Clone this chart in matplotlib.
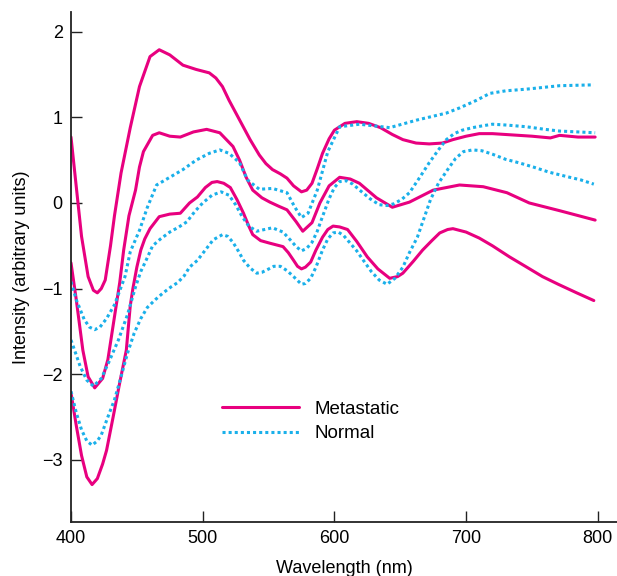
# Reflectance spectra: metastatic vs normal tissue (three of each)
import matplotlib
matplotlib.use('Agg')
import matplotlib.pyplot as plt

plt.rcParams['font.family'] = ['Liberation Sans', 'DejaVu Sans']

# --- metastatic spectra (solid magenta) ---
met1_x = [400, 404, 408, 413, 417, 420, 423, 426, 430, 433, 438, 445, 452, 460, 467, 475, 485, 495,
          505, 510, 515, 520, 528, 536, 543, 548, 553, 559, 564, 569, 575, 579, 583, 587, 591, 596,
          600, 608, 617, 626, 635, 644, 652, 662, 672, 682, 690, 700, 710, 720, 730, 740, 750, 764,
          771, 785, 798]
met1_y = [0.77, 0.19, -0.39, -0.86, -1.02, -1.05, -1.0, -0.9, -0.5, -0.15, 0.35, 0.88, 1.36, 1.71,
          1.79, 1.73, 1.61, 1.56, 1.52, 1.46, 1.36, 1.2, 0.97, 0.74, 0.56, 0.46, 0.39, 0.34, 0.29,
          0.2, 0.13, 0.15, 0.23, 0.40, 0.58, 0.75, 0.85, 0.93, 0.95, 0.93, 0.88, 0.80, 0.74, 0.70,
          0.69, 0.70, 0.74, 0.78, 0.81, 0.81, 0.80, 0.79, 0.78, 0.76, 0.79, 0.77, 0.77]

met2_x = [400, 404, 409, 413, 418, 424, 428, 433, 437, 440, 444, 449, 452, 455, 462, 467, 475, 483,
          493, 503, 513, 523, 528, 533, 538, 545, 551, 558, 564, 571, 576, 583, 589, 596, 604, 612,
          619, 632, 644, 657, 675, 695, 713, 731, 748, 771, 798]
met2_y = [-0.70, -1.13, -1.72, -2.03, -2.16, -2.05, -1.83, -1.33, -0.93, -0.55, -0.15, 0.15, 0.42,
          0.6, 0.79, 0.82, 0.78, 0.77, 0.83, 0.86, 0.82, 0.66, 0.50, 0.30, 0.15, 0.06, 0.01, -0.04,
          -0.08, -0.22, -0.33, -0.23, 0.0, 0.2, 0.30, 0.28, 0.23, 0.06, -0.05, 0.01, 0.15, 0.21,
          0.19, 0.12, 0.0, -0.09, -0.2]

met3_x = [400, 404, 408, 412, 416, 420, 424, 427, 432, 437, 442, 445, 447, 450, 453, 456, 460, 467,
          475, 483, 490, 496, 502, 507, 511, 516, 521, 526, 531, 535, 538, 544, 551, 556, 561, 565,
          569, 572, 575, 578, 582, 586, 591, 595, 599, 604, 610, 617, 625, 633, 642, 648, 652, 660,
          667, 674, 680, 686, 690, 695, 700, 710, 720, 733, 745, 758, 770, 784, 797]
met3_y = [-2.22, -2.6, -2.95, -3.2, -3.29, -3.22, -3.05, -2.89, -2.5, -2.1, -1.72, -1.2, -1.0, -0.75,
          -0.55, -0.42, -0.3, -0.16, -0.13, -0.12, 0.0, 0.07, 0.18, 0.24, 0.25, 0.23, 0.18, 0.04,
          -0.12, -0.27, -0.37, -0.44, -0.47, -0.49, -0.51, -0.58, -0.67, -0.74, -0.77, -0.75, -0.69,
          -0.55, -0.40, -0.31, -0.27, -0.28, -0.31, -0.45, -0.63, -0.77, -0.88, -0.86, -0.82, -0.68,
          -0.55, -0.44, -0.35, -0.31, -0.30, -0.32, -0.34, -0.41, -0.50, -0.63, -0.74, -0.86, -0.95,
          -1.05, -1.14]

# --- normal spectra (dotted cyan) ---
nor1_x = [400, 404, 410, 414, 418, 422, 427, 433, 441, 445, 452, 458, 465, 475, 485, 495, 505, 513,
          520, 528, 534, 543, 553, 564, 570, 575, 580, 587, 595, 604, 619, 642, 663, 685, 695, 708,
          718, 730, 746, 771, 797]
nor1_y = [-0.92, -1.13, -1.36, -1.45, -1.48, -1.45, -1.35, -1.19, -0.86, -0.57, -0.32, -0.05, 0.21,
          0.30, 0.39, 0.50, 0.58, 0.62, 0.58, 0.47, 0.27, 0.16, 0.17, 0.12, -0.05, -0.17, -0.12,
          0.15, 0.6, 0.89, 0.92, 0.88, 0.97, 1.05, 1.11, 1.2, 1.28, 1.31, 1.33, 1.37, 1.38]

nor2_x = [400, 407, 412, 417, 423, 429, 436, 443, 449, 453, 457, 462, 468, 475, 482, 488, 494, 500,
          507, 514, 520, 525, 530, 535, 541, 547, 553, 561, 567, 571, 575, 579, 583, 587, 590, 596,
          600, 604, 609, 614, 620, 627, 634, 640, 645, 651, 657, 664, 672, 679, 685, 691, 697, 705,
          712, 720, 731, 746, 760, 771, 785, 798]
nor2_y = [-1.6, -1.91, -2.07, -2.14, -2.05, -1.85, -1.6, -1.3, -0.98, -0.8, -0.67, -0.5, -0.42,
          -0.34, -0.28, -0.22, -0.1, 0.0, 0.09, 0.13, 0.09, -0.02, -0.16, -0.27, -0.33, -0.31,
          -0.29, -0.34, -0.44, -0.51, -0.56, -0.53, -0.46, -0.33, -0.2, 0.05, 0.18, 0.25, 0.26,
          0.22, 0.14, 0.05, -0.02, -0.03, -0.01, 0.04, 0.12, 0.28, 0.47, 0.62, 0.74, 0.81, 0.85,
          0.88, 0.90, 0.92, 0.91, 0.89, 0.86, 0.84, 0.83, 0.82]

nor3_x = [400, 404, 408, 412, 416, 420, 423, 428, 433, 438, 443, 448, 453, 458, 464, 470, 476, 481,
          486, 490, 496, 502, 508, 515, 519, 523, 527, 531, 536, 541, 545, 549, 554, 559, 564, 569,
          575, 578, 582, 586, 591, 595, 599, 603, 607, 612, 617, 622, 628, 634, 640, 646, 652, 657,
          663, 668, 673, 679, 686, 692, 698, 705, 712, 720, 730, 740, 751, 763, 776, 787, 797]
nor3_y = [-2.2, -2.45, -2.65, -2.78, -2.83, -2.78, -2.71, -2.5, -2.3, -2.03, -1.75, -1.52, -1.35,
          -1.22, -1.13, -1.05, -0.98, -0.93, -0.85, -0.75, -0.67, -0.55, -0.43, -0.37, -0.39, -0.46,
          -0.56, -0.67, -0.76, -0.82, -0.81, -0.78, -0.74, -0.74, -0.79, -0.86, -0.95, -0.94, -0.88,
          -0.75, -0.55, -0.42, -0.35, -0.34, -0.38, -0.47, -0.56, -0.67, -0.80, -0.90, -0.95, -0.88,
          -0.75, -0.58, -0.40, -0.18, 0.04, 0.23, 0.39, 0.52, 0.60, 0.62, 0.61, 0.57, 0.51, 0.47,
          0.42, 0.36, 0.31, 0.27, 0.22]

xticks = [400, 500, 600, 700, 800]
yticks = [-3, -2, -1, 0, 1, 2]

pink = '#e8007f'
cyan = '#1ab0ea'

fig = plt.figure(figsize=(6.17, 5.76), dpi=100)
ax = fig.add_axes([71 / 617, 1 - 522 / 576, 1 - 71 / 617, 510 / 576])

solid = dict(color=pink, lw=2.2, solid_joinstyle='round', solid_capstyle='round')
dotted = dict(color=cyan, lw=2.2, ls=(0, (1, 1)), dash_joinstyle='round')

ax.plot(met1_x, met1_y, label='Metastatic', **solid)
ax.plot(met2_x, met2_y, **solid)
ax.plot(met3_x, met3_y, **solid)
ax.plot(nor1_x, nor1_y, label='Normal', **dotted)
ax.plot(nor2_x, nor2_y, **dotted)
ax.plot(nor3_x, nor3_y, **dotted)

ax.set_xlim(400, 814.6)
ax.set_ylim(-3.727, 2.231)
ax.set_xticks(xticks)
ax.set_yticks(yticks)
ax.tick_params(direction='in', length=8, width=1, labelsize=13, pad=6, color='#222222')

for s in ['top', 'right']:
    ax.spines[s].set_visible(False)
for s in ['left', 'bottom']:
    ax.spines[s].set_linewidth(1.3)
    ax.spines[s].set_color('#222222')

ax.set_xlabel('Wavelength (nm)', fontsize=13, labelpad=9)
ax.set_ylabel('Intensity (arbitrary units)', fontsize=13, labelpad=9)

ax.legend(loc='upper left', bbox_to_anchor=(0.2766, 0.238), frameon=False, fontsize=13.5,
          handlelength=4.1, handletextpad=0.85, labelspacing=0.4, borderpad=0, borderaxespad=0)

fig.savefig('out.png', dpi=100)
